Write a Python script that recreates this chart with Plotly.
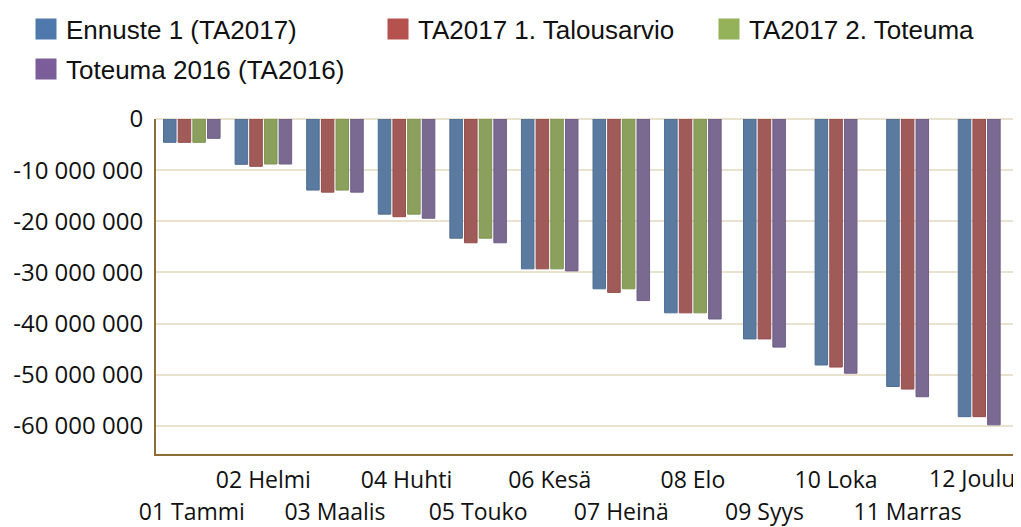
import plotly.graph_objects as go

categories = ["01 Tammi", "02 Helmi", "03 Maalis", "04 Huhti", "05 Touko", "06 Kesä",
              "07 Heinä", "08 Elo", "09 Syys", "10 Loka", "11 Marras", "12 Joulu"]

series_names = ["Ennuste 1 (TA2017)", "TA2017 1. Talousarvio", "TA2017 2. Toteuma", "Toteuma 2016 (TA2016)"]

ennuste_1 = [-4560000, -8860000, -13900000, -18600000, -23300000, -29300000,
             -33200000, -37900000, -43000000, -48100000, -52300000, -58200000]
talousarvio = [-4560000, -9250000, -14300000, -19100000, -24200000, -29300000,
               -33900000, -37900000, -43000000, -48500000, -52800000, -58200000]
toteuma_2017 = [-4560000, -8800000, -13900000, -18600000, -23300000, -29300000,
                -33200000, -37900000, None, None, None, None]
toteuma_2016 = [-3780000, -8800000, -14300000, -19400000, -24200000, -29700000,
                -35500000, -39100000, -44600000, -49700000, -54300000, -59800000]

y_tick_vals = [0, -10000000, -20000000, -30000000, -40000000, -50000000, -60000000]
y_tick_labels = ["0", "-10 000 000", "-20 000 000", "-30 000 000", "-40 000 000", "-50 000 000", "-60 000 000"]

series_values = [ennuste_1, talousarvio, toteuma_2017, toteuma_2016]
bar_colors = ["#5A7AA0", "#A05A58", "#8AA05C", "#7A6A92"]
edge_colors = ["#4E6E94", "#944E4C", "#7E9450", "#6E5E86"]
legend_colors = ["#4F79AD", "#B5524F", "#93B25A", "#7B5E99"]

LEG_FONT = "Liberation Sans, Arial, sans-serif"
TICK_FONT = "Open Sans, sans-serif"

BODY = 8                      # default page margin around the plot div
W, H = 1021 - BODY, 527 - BODY
pitch = 0.205
bw = 0.175
n_cat = len(categories)
xs = list(range(n_cat))

# compact groups: missing series leave no gap
present = [[s for s in range(4) if series_values[s][c] is not None] for c in range(n_cat)]

fig = go.Figure()
for s in range(4):
    offs = []
    for c in range(n_cat):
        if s in present[c]:
            n = len(present[c])
            i = present[c].index(s)
            offs.append((i - (n - 1) / 2) * pitch - bw / 2)
        else:
            offs.append(0)
    fig.add_trace(go.Bar(
        x=xs, y=series_values[s], name=series_names[s],
        offset=offs, width=bw,
        marker=dict(color=bar_colors[s], line=dict(color=edge_colors[s], width=1)),
        showlegend=False,
    ))

# legend entries, each in its own legend box
legend_ids = ["legend", "legend2", "legend3", "legend4"]
for s in range(4):
    fig.add_trace(go.Scatter(
        x=[None], y=[None], name=series_names[s], mode="markers",
        marker=dict(symbol="square", size=16, color=legend_colors[s],
                    line=dict(color=legend_colors[s], width=5)),
        showlegend=True, legend=legend_ids[s],
    ))

# invisible traces for the staggered / shifted x axes
for ax in ["x2", "x3"]:
    fig.add_trace(go.Scatter(x=xs, y=[None] * n_cat, xaxis=ax, showlegend=False,
                             hoverinfo="skip", mode="markers"))

last = n_cat - 1
even_idx = [i for i in xs if i % 2 == 1 and i != last]
odd_idx = [i for i in xs if i % 2 == 0]

# legend swatch centre positions in page pixels (x, y)
leg_pos = [(46, 29), (398, 29), (729, 29), (46, 69)]


def leg(px, py):
    return dict(
        orientation="h", xref="container", yref="container",
        x=(px - BODY - 20) / W, y=1 - (py - BODY) / H, xanchor="left", yanchor="middle",
        font=dict(family=LEG_FONT, size=26, color="#111111"),
        itemsizing="trace", bgcolor="rgba(0,0,0,0)",
    )


def xax(vals, ticklen, shift=0, **kw):
    d = dict(
        range=[-0.5, n_cat - 0.5], automargin=False,
        tickmode="array", tickvals=vals, ticktext=[categories[i] for i in vals],
        ticks="outside", ticklen=ticklen, tickcolor="rgba(0,0,0,0)",
        showgrid=False, zeroline=False, ticklabelshift=shift,
        tickfont=dict(family=TICK_FONT, size=23, color="#111111"),
    )
    d.update(kw)
    return d


fig.update_layout(
    width=W, height=H,
    margin=dict(l=156 - BODY, r=6, t=119 - BODY, b=527 - 454),
    paper_bgcolor="white", plot_bgcolor="white",
    barmode="overlay",
    font=dict(family=TICK_FONT, size=22, color="#111111"),
    legend=leg(*leg_pos[0]),
    legend2=leg(*leg_pos[1]),
    legend3=leg(*leg_pos[2]),
    legend4=leg(*leg_pos[3]),
    xaxis=xax(even_idx, 4, showline=True, linecolor="#8C6D35", linewidth=2),
    xaxis2=xax(odd_idx, 37, overlaying="x", anchor="y", side="bottom", showline=False),
    xaxis3=xax([last], 4, shift=-7, overlaying="x", anchor="y", side="bottom", showline=False),
    yaxis=dict(
        range=[-65500000, 0], automargin=False,
        tickmode="array", tickvals=y_tick_vals, ticktext=y_tick_labels,
        showgrid=True, gridcolor="#EBE1CF", gridwidth=2,
        zeroline=True, zerolinecolor="#EBE1CF", zerolinewidth=2,
        showline=True, linecolor="#8C6D35", linewidth=2,
        ticks="", ticklabelstandoff=6,
        tickfont=dict(family=TICK_FONT, size=24, color="#111111"),
    ),
)

fig.write_html("out.html")
